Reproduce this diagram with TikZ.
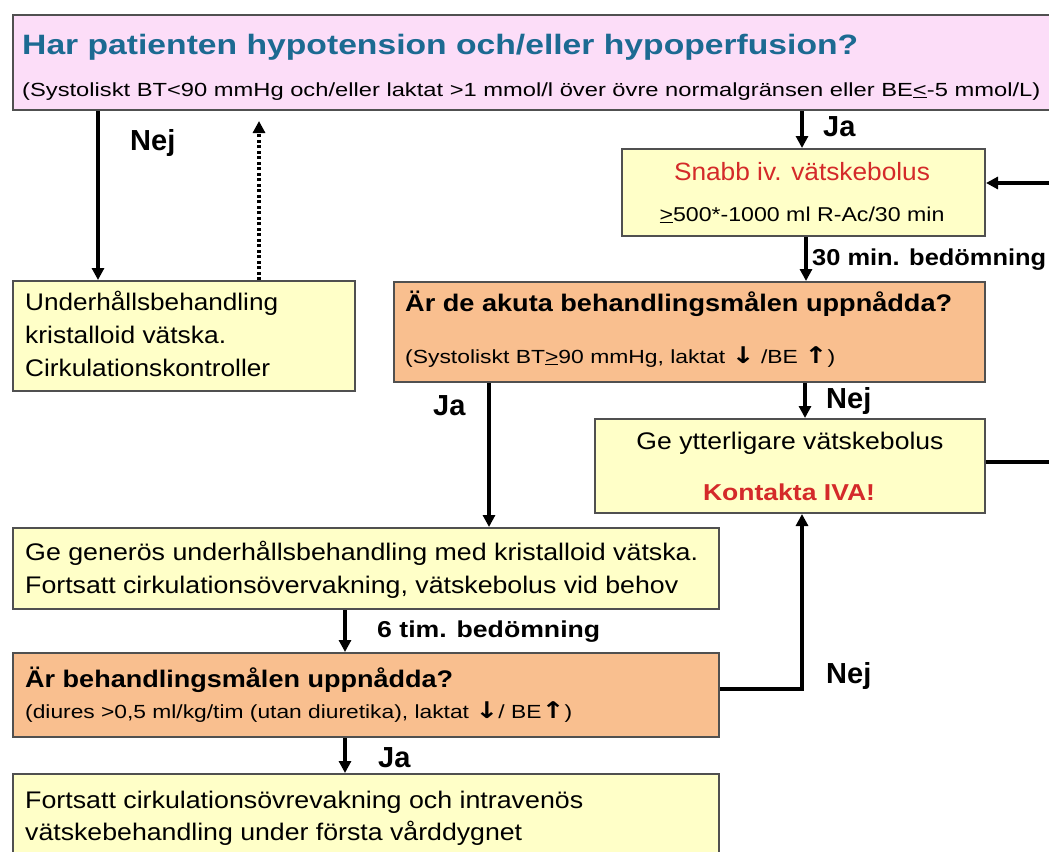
\documentclass[tikz,border=0pt]{standalone}
\usepackage{fontspec}
\setmainfont{Liberation Sans}
\newfontfamily\arrfont{DejaVu Sans}
\usepackage{graphicx}
\usetikzlibrary{arrows.meta}
\definecolor{pinkfill}{HTML}{FCDDF8}
\definecolor{yelfill}{HTML}{FFFFC8}
\definecolor{orfill}{HTML}{F9BF8F}
\definecolor{titleblue}{HTML}{1C6A92}
\definecolor{redtxt}{HTML}{D42A2A}
\definecolor{boxline}{HTML}{505050}
\newcommand{\tw}[2]{\resizebox{#1pt}{\height}{#2}}
\newcommand{\fs}[1]{\fontsize{#1pt}{#1pt}\selectfont}
\newcommand{\ar}[1]{{\arrfont\bfseries\fontsize{23pt}{23pt}\selectfont #1}}
\begin{document}
\begin{tikzpicture}[x=1pt,y=-1pt,
  box/.style={draw=boxline,line width=2pt,rectangle,inner sep=0pt,anchor=north west},
  pinkbox/.style={box,fill=pinkfill},
  yelbox/.style={box,fill=yelfill},
  orbox/.style={box,fill=orfill},
  txt/.style={inner sep=0pt,anchor=base west,text=black},
  ctxt/.style={inner sep=0pt,anchor=base,text=black},
  arr/.style={line width=3.2pt,-{Triangle[length=12pt,width=12pt]}},
  ln/.style={line width=3.2pt},
  dotarr/.style={line width=3.2pt,dash pattern=on 3pt off 2.5pt,-{Triangle[length=12pt,width=12pt]}}
]
\clip (0,0) rectangle (1049,851);
\fill[white] (0,0) rectangle (1049,851);
% boxes
\node[pinkbox,minimum width=1070pt,minimum height=95pt] (top) at (12,14) {};
\node[yelbox,minimum width=363pt,minimum height=87pt] (snabb) at (621,148) {};
\node[yelbox,minimum width=342pt,minimum height=110pt] (und) at (12,280) {};
\node[orbox,minimum width=591pt,minimum height=100pt] (akut) at (393,281) {};
\node[yelbox,minimum width=390pt,minimum height=94pt] (ytt) at (594,418) {};
\node[yelbox,minimum width=706pt,minimum height=81pt] (gen) at (12,527) {};
\node[orbox,minimum width=706pt,minimum height=84pt] (mal) at (12,652) {};
\node[yelbox,minimum width=706pt,minimum height=100pt] (fort) at (12,773) {};
% texts
\node[txt,text=titleblue] (t1) at (22,55) {\fs{28}\bfseries\tw{836}{Har patienten hypotension och/eller hypoperfusion?}};
\node[txt] (t2) at (22,96) {\fs{19}\tw{1018}{(Systoliskt BT<90 mmHg och/eller laktat >1 mmol/l över övre normalgränsen eller BE\underline{<}-5 mmol/L)}};
\node[txt] (ja1) at (823,136) {\fs{29}\bfseries Ja};
\node[txt] (nej1) at (130,150) {\fs{29}\bfseries Nej};
\node[ctxt,text=redtxt] (s1) at (802,180) {\fs{25}\tw{256}{Snabb iv. vätskebolus}};
\node[ctxt] (s2) at (802,221) {\fs{20}\tw{285}{\underline{>}500*-1000 ml R-Ac/30 min}};
\node[txt] (min30) at (812,265) {\fs{23}\bfseries\tw{234}{30 min. bedömning}};
\node[txt] (a1) at (405,311) {\fs{24}\bfseries\tw{547}{Är de akuta behandlingsmålen uppnådda?}};
\node[txt] (a2) at (405,363) {\fs{19}\tw{430}{(Systoliskt BT\underline{>}90 mmHg, laktat \ar{↓} /BE \ar{↑})}};
\node[txt] (ja2) at (433,415) {\fs{29}\bfseries Ja};
\node[txt] (nej2) at (826,408) {\fs{29}\bfseries Nej};
\node[ctxt] (y1) at (790,449) {\fs{24}\tw{307}{Ge ytterligare vätskebolus}};
\node[ctxt,text=redtxt] (y2) at (789,500) {\fs{23}\bfseries\tw{172}{Kontakta IVA!}};
\node[txt] (u1) at (25,310) {\fs{24}\tw{253}{Underhållsbehandling}};
\node[txt] (u2) at (25,343) {\fs{24}\tw{201}{kristalloid vätska.}};
\node[txt] (u3) at (25,376) {\fs{24}\tw{245}{Cirkulationskontroller}};
\node[txt] (g1) at (25,560) {\fs{24}\tw{673}{Ge generös underhållsbehandling med kristalloid vätska.}};
\node[txt] (g2) at (25,593) {\fs{24}\tw{653}{Fortsatt cirkulationsövervakning, vätskebolus vid behov}};
\node[txt] (tim6) at (377,637) {\fs{23}\bfseries\tw{223}{6 tim. bedömning}};
\node[txt] (m1) at (25,687) {\fs{24}\bfseries\tw{428}{Är behandlingsmålen uppnådda?}};
\node[txt] (m2) at (25,718) {\fs{19}\tw{547}{(diures >0,5 ml/kg/tim (utan diuretika), laktat \ar{↓}/ BE\ar{↑})}};
\node[txt] (nej3) at (826,683) {\fs{29}\bfseries Nej};
\node[txt] (ja3) at (378,767) {\fs{29}\bfseries Ja};
\node[txt] (f1) at (25,808) {\fs{24}\tw{558}{Fortsatt cirkulationsövrevakning och intravenös}};
\node[txt] (f2) at (25,840) {\fs{24}\tw{497}{vätskebehandling under första vårddygnet}};
% connectors
\coordinate (rin) at (1060,183);
\coordinate (rout) at (1060,462);
\coordinate (bend) at (802,689);
\draw[arr] (top.south -| 98,0) -- (und.north -| 98,0);
\draw[dotarr] (und.north -| 259,0) -- ([yshift=-10pt]top.south -| 259,0);
\draw[arr] (top.south -| 802,0) -- (snabb.north -| 802,0);
\draw[arr] (rin) -- (snabb.east |- rin);
\draw[arr] (snabb.south -| 806,0) -- (akut.north -| 806,0);
\draw[arr] (akut.south -| 805,0) -- (ytt.north -| 805,0);
\draw[ln] (ytt.east |- rout) -- (rout);
\draw[arr] (akut.south -| 489,0) -- (gen.north -| 489,0);
\draw[arr] (gen.south -| 345,0) -- (mal.north -| 345,0);
\draw[arr] (mal.east |- bend) -- (bend) -- (ytt.south -| bend);
\draw[arr] (mal.south -| 345,0) -- (fort.north -| 345,0);
\end{tikzpicture}
\end{document}
